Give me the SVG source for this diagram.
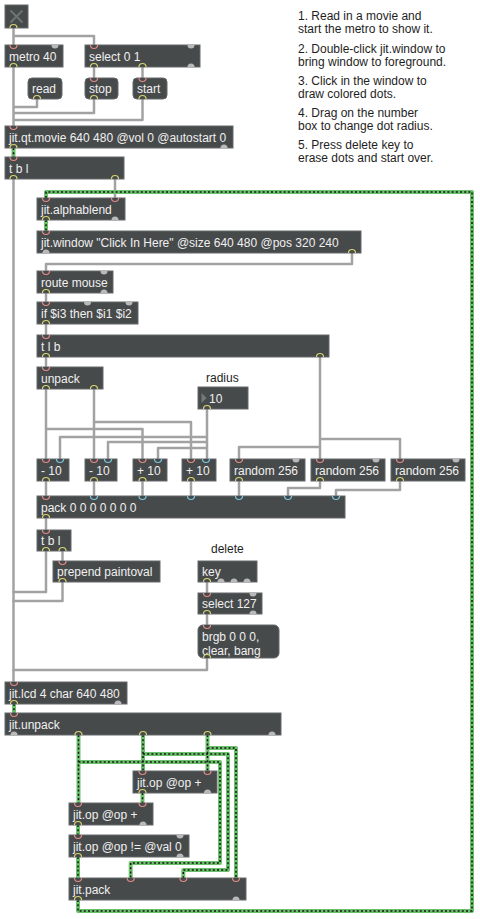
<svg xmlns="http://www.w3.org/2000/svg" xmlns:xlink="http://www.w3.org/1999/xlink" width="480" height="919" viewBox="0 0 480 919">
<style>
.b{fill:#474a4b;stroke:#65686a;stroke-width:1}
.t{font-family:"Liberation Sans",Arial,sans-serif;font-size:12px;fill:#f0f0f0}
.c{font-family:"Liberation Sans",Arial,sans-serif;font-size:12px;fill:#1e1e1e}
.w{fill:none;stroke:#a2a2a2;stroke-width:2.5;stroke-linejoin:round;stroke-linecap:round}
.g{fill:none;stroke:#6cc26c;stroke-width:4;stroke-linejoin:round}
.gd{fill:none;stroke:#151515;stroke-width:1.5;stroke-dasharray:2 2.2}
</style>
<defs>
<path id="ih" d="M-3.5,0 A3.5,3.5 0 0 0 3.5,0" fill="#474a4b" stroke="#e48a86" stroke-width="1.2"/>
<path id="ic" d="M-3.5,0 A3.5,3.5 0 0 0 3.5,0" fill="#474a4b" stroke="#7cc7e2" stroke-width="1.2"/>
<path id="iu" d="M-3.5,0 A3.5,3.5 0 0 0 3.5,0" fill="#b9b9b9"/>
<path id="o" d="M-3.5,0 A3.5,3.5 0 0 1 3.5,0" fill="#474a4b" stroke="#d6d470" stroke-width="1.2"/>
<path id="ou" d="M-3.5,0 A3.5,3.5 0 0 1 3.5,0" fill="#b9b9b9"/>
</defs>

<g id="comment">
<text class="c" x="298" y="20">1. Read in a movie and</text>
<text class="c" x="298" y="33">start the metro to show it.</text>
<text class="c" x="298" y="53">2. Double-click jit.window to</text>
<text class="c" x="298" y="66">bring window to foreground.</text>
<text class="c" x="298" y="85">3. Click in the window to</text>
<text class="c" x="298" y="98">draw colored dots.</text>
<text class="c" x="298" y="117">4. Drag on the number</text>
<text class="c" x="298" y="130">box to change dot radius.</text>
<text class="c" x="298" y="149">5. Press delete key to</text>
<text class="c" x="298" y="162">erase dots and start over.</text>
</g>
<g id="label-radius"><text class="c" x="206" y="382">radius</text></g>
<g id="label-delete"><text class="c" x="211" y="553">delete</text></g>

<g id="connectors">
<path class="w" d="M13.5,28 V45 M13.5,36 H94 V45 M13.5,67 V126 M37,99 V107 H13.5 M94,99 V113 H13.5 M142.5,99 V120 H13.5 M94,67 V78 M142.5,67 V78"/>
<path class="w" d="M13.5,179 V682 M115,179 V198"/>
<path class="w" d="M352,253 V264 H46 V271 M46,293 V302 M46,324 V335 M46,357 V367"/>
<path class="w" d="M320,357 V459 M320,439 H400 V459 M320,447 H239 V459"/>
<path class="w" d="M46,389 V459 M46,429 H142.5 V459 M94,389 V459 M94,422 H191 V459"/>
<path class="w" d="M207,409 V459 M207,437 H60 V459 M207,442 H108 V459 M207,448 H158 V459"/>
<path class="w" d="M46,481 V496 M94,481 V496 M142.5,481 V496 M191,481 V496 M239,481 V496 M320,481 V488 H288 V496 M400,481 V490 H336 V496"/>
<path class="w" d="M46,518 V530 M46,551 V592 H13.5 M62.5,551 V561 M62.5,582 V601 H13.5 M207,582 V593 M207,614 V625 M207,658 V670 H13.5"/>
<path class="g" d="M13.5,148 V157 M46,220 V231 M14,704 V713 M78.5,735 V803 M78.5,762 H220 V863 H130.7 V878 M143,735 V771 M143,754 H228 V870 H183.3 V878 M207.5,735 V771 M207.5,748 H236 V878 M142.5,793 V803 M78,825 V835 M78,857 V878 M78,900 V911 H472 V192 H46 V198"/>
<path class="gd" d="M13.5,148 V157 M46,220 V231 M14,704 V713 M78.5,735 V803 M78.5,762 H220 V863 H130.7 V878 M143,735 V771 M143,754 H228 V870 H183.3 V878 M207.5,735 V771 M207.5,748 H236 V878 M142.5,793 V803 M78,825 V835 M78,857 V878 M78,900 V911 H472 V192 H46 V198"/>
</g>

<g id="toggle"><rect class="b" x="5" y="5" width="23" height="23"/><path d="M10.5,10.5 L22.5,22.5 M22.5,10.5 L10.5,22.5" stroke="#6f7273" stroke-width="2"/><use xlink:href="#o" x="13.5" y="28"/></g>

<g id="metro"><rect class="b" x="5" y="45" width="58" height="22"/><text class="t" x="9" y="61">metro 40</text><use xlink:href="#ih" x="13.5" y="45"/><use xlink:href="#iu" x="55" y="45"/><use xlink:href="#o" x="13.5" y="67"/></g>
<g id="select01"><rect class="b" x="85" y="45" width="115" height="22"/><text class="t" x="89" y="61">select 0 1</text><use xlink:href="#ih" x="94" y="45"/><use xlink:href="#iu" x="191" y="45"/><use xlink:href="#o" x="94" y="67"/><use xlink:href="#o" x="142.5" y="67"/><use xlink:href="#ou" x="191" y="67"/></g>
<g id="msg-read"><rect class="b" x="28" y="78" width="34" height="21" rx="4"/><text class="t" x="32" y="93">read</text><use xlink:href="#o" x="37" y="99"/></g>
<g id="msg-stop"><rect class="b" x="85" y="78" width="33" height="21" rx="4"/><text class="t" x="89" y="93">stop</text><use xlink:href="#ih" x="94" y="78"/><use xlink:href="#o" x="94" y="99"/></g>
<g id="msg-start"><rect class="b" x="133" y="78" width="34" height="21" rx="4"/><text class="t" x="137" y="93">start</text><use xlink:href="#ih" x="142.5" y="78"/><use xlink:href="#o" x="142.5" y="99"/></g>
<g id="qtmovie"><rect class="b" x="5" y="126" width="228" height="22"/><text class="t" x="9" y="142">jit.qt.movie 640 480 @vol 0 @autostart 0</text><use xlink:href="#ih" x="13.5" y="126"/><use xlink:href="#o" x="13.5" y="148"/><use xlink:href="#ou" x="224" y="148"/></g>
<g id="tbl1"><rect class="b" x="5" y="157" width="119" height="22"/><text class="t" x="9" y="173">t b l</text><use xlink:href="#ih" x="13.5" y="157"/><use xlink:href="#o" x="13.5" y="179"/><use xlink:href="#o" x="115" y="179"/></g>
<g id="alphablend"><rect class="b" x="37" y="198" width="88" height="22"/><text class="t" x="41" y="214">jit.alphablend</text><use xlink:href="#ih" x="46" y="198"/><use xlink:href="#ih" x="115" y="198"/><use xlink:href="#o" x="46" y="220"/><use xlink:href="#ou" x="115" y="220"/></g>
<g id="window"><rect class="b" x="37" y="231" width="324" height="22"/><text class="t" x="41" y="247">jit.window "Click In Here" @size 640 480 @pos 320 240</text><use xlink:href="#ih" x="46" y="231"/><use xlink:href="#ou" x="46" y="253"/><use xlink:href="#o" x="352" y="253"/></g>
<g id="routemouse"><rect class="b" x="37" y="271" width="76" height="22"/><text class="t" x="41" y="287">route mouse</text><use xlink:href="#ih" x="46" y="271"/><use xlink:href="#iu" x="104" y="271"/><use xlink:href="#o" x="46" y="293"/><use xlink:href="#ou" x="104" y="293"/></g>
<g id="if"><rect class="b" x="37" y="302" width="101" height="22"/><text class="t" x="41" y="318">if $i3 then $i1 $i2</text><use xlink:href="#ih" x="46" y="302"/><use xlink:href="#iu" x="87.5" y="302"/><use xlink:href="#iu" x="129" y="302"/><use xlink:href="#o" x="46" y="324"/></g>
<g id="tlb"><rect class="b" x="37" y="335" width="292" height="22"/><text class="t" x="41" y="351">t l b</text><use xlink:href="#ih" x="46" y="335"/><use xlink:href="#o" x="46" y="357"/><use xlink:href="#o" x="320" y="357"/></g>
<g id="unpack"><rect class="b" x="37" y="367" width="66" height="22"/><text class="t" x="41" y="383">unpack</text><use xlink:href="#ih" x="46" y="367"/><use xlink:href="#o" x="46" y="389"/><use xlink:href="#o" x="94" y="389"/></g>
<g id="number"><rect class="b" x="198" y="387" width="50" height="22"/><path d="M201.5,393 L206.5,398 L201.5,403 Z" fill="#76797a"/><text class="t" x="209" y="403">10</text><use xlink:href="#o" x="207" y="409"/></g>
<g id="minus1"><rect class="b" x="37" y="459" width="32" height="22"/><text class="t" x="41" y="475">- 10</text><use xlink:href="#ih" x="46" y="459"/><use xlink:href="#ic" x="60" y="459"/><use xlink:href="#o" x="46" y="481"/></g>
<g id="minus2"><rect class="b" x="85" y="459" width="32" height="22"/><text class="t" x="89" y="475">- 10</text><use xlink:href="#ih" x="94" y="459"/><use xlink:href="#ic" x="108" y="459"/><use xlink:href="#o" x="94" y="481"/></g>
<g id="plus1"><rect class="b" x="133" y="459" width="34" height="22"/><text class="t" x="137" y="475">+ 10</text><use xlink:href="#ih" x="142.5" y="459"/><use xlink:href="#ic" x="158" y="459"/><use xlink:href="#o" x="142.5" y="481"/></g>
<g id="plus2"><rect class="b" x="182" y="459" width="34" height="22"/><text class="t" x="186" y="475">+ 10</text><use xlink:href="#ih" x="191" y="459"/><use xlink:href="#ic" x="206" y="459"/><use xlink:href="#o" x="191" y="481"/></g>
<g id="random1"><rect class="b" x="230" y="459" width="75" height="22"/><text class="t" x="234" y="475">random 256</text><use xlink:href="#ih" x="239" y="459"/><use xlink:href="#iu" x="296" y="459"/><use xlink:href="#o" x="239" y="481"/></g>
<g id="random2"><rect class="b" x="311" y="459" width="74" height="22"/><text class="t" x="315" y="475">random 256</text><use xlink:href="#ih" x="320" y="459"/><use xlink:href="#iu" x="376" y="459"/><use xlink:href="#o" x="320" y="481"/></g>
<g id="random3"><rect class="b" x="391" y="459" width="74" height="22"/><text class="t" x="395" y="475">random 256</text><use xlink:href="#ih" x="400" y="459"/><use xlink:href="#iu" x="456" y="459"/><use xlink:href="#o" x="400" y="481"/></g>
<g id="pack"><rect class="b" x="37" y="496" width="308" height="22"/><text class="t" x="41" y="512">pack 0 0 0 0 0 0 0</text><use xlink:href="#ih" x="46" y="496"/><use xlink:href="#ic" x="94" y="496"/><use xlink:href="#ic" x="142.5" y="496"/><use xlink:href="#ic" x="191" y="496"/><use xlink:href="#ic" x="239" y="496"/><use xlink:href="#ic" x="288" y="496"/><use xlink:href="#ic" x="336" y="496"/><use xlink:href="#o" x="46" y="518"/></g>
<g id="tbl2"><rect class="b" x="37" y="530" width="34" height="21"/><text class="t" x="41" y="545">t b l</text><use xlink:href="#ih" x="46" y="530"/><use xlink:href="#o" x="46" y="551"/><use xlink:href="#o" x="62.5" y="551"/></g>
<g id="prepend"><rect class="b" x="53" y="561" width="107" height="21"/><text class="t" x="57" y="576">prepend paintoval</text><use xlink:href="#ih" x="62.5" y="561"/><use xlink:href="#o" x="62.5" y="582"/></g>
<g id="key"><rect class="b" x="198" y="561" width="59" height="21"/><text class="t" x="202" y="576">key</text><use xlink:href="#o" x="207" y="582"/><use xlink:href="#ou" x="221" y="582"/><use xlink:href="#ou" x="234" y="582"/><use xlink:href="#ou" x="247" y="582"/></g>
<g id="select127"><rect class="b" x="198" y="593" width="64" height="21"/><text class="t" x="202" y="608">select 127</text><use xlink:href="#ih" x="207" y="593"/><use xlink:href="#iu" x="253" y="593"/><use xlink:href="#o" x="207" y="614"/><use xlink:href="#ou" x="253" y="614"/></g>
<g id="msg-brgb"><rect class="b" x="198" y="625" width="81" height="33" rx="5"/><text class="t" x="202" y="641">brgb 0 0 0,</text><text class="t" x="202" y="655">clear, bang</text><use xlink:href="#ih" x="207" y="625"/><use xlink:href="#o" x="207" y="658"/></g>
<g id="lcd"><rect class="b" x="5" y="682" width="122" height="22"/><text class="t" x="9" y="698">jit.lcd 4 char 640 480</text><use xlink:href="#ih" x="14" y="682"/><use xlink:href="#o" x="14" y="704"/><use xlink:href="#ou" x="118" y="704"/></g>
<g id="jitunpack"><rect class="b" x="5" y="713" width="276" height="22"/><text class="t" x="9" y="729">jit.unpack</text><use xlink:href="#ih" x="14" y="713"/><use xlink:href="#ou" x="14" y="735"/><use xlink:href="#o" x="78.5" y="735"/><use xlink:href="#o" x="143" y="735"/><use xlink:href="#o" x="207.5" y="735"/><use xlink:href="#ou" x="272" y="735"/></g>
<g id="op1"><rect class="b" x="133" y="771" width="84" height="22"/><text class="t" x="137" y="787">jit.op @op +</text><use xlink:href="#ih" x="142.5" y="771"/><use xlink:href="#ih" x="207.5" y="771"/><use xlink:href="#o" x="142.5" y="793"/><use xlink:href="#ou" x="207.5" y="793"/></g>
<g id="op2"><rect class="b" x="69" y="803" width="84" height="22"/><text class="t" x="73" y="819">jit.op @op +</text><use xlink:href="#ih" x="78" y="803"/><use xlink:href="#ih" x="142.5" y="803"/><use xlink:href="#o" x="78" y="825"/><use xlink:href="#ou" x="143" y="825"/></g>
<g id="opne"><rect class="b" x="69" y="835" width="120" height="22"/><text class="t" x="73" y="851">jit.op @op != @val 0</text><use xlink:href="#ih" x="78" y="835"/><use xlink:href="#iu" x="180" y="835"/><use xlink:href="#o" x="78" y="857"/><use xlink:href="#ou" x="180" y="857"/></g>
<g id="jitpack"><rect class="b" x="69" y="878" width="177" height="22"/><text class="t" x="73" y="894">jit.pack</text><use xlink:href="#ih" x="78" y="878"/><use xlink:href="#ih" x="130.7" y="878"/><use xlink:href="#ih" x="183.3" y="878"/><use xlink:href="#ih" x="236" y="878"/><use xlink:href="#o" x="78" y="900"/><use xlink:href="#ou" x="236" y="900"/></g>
</svg>
